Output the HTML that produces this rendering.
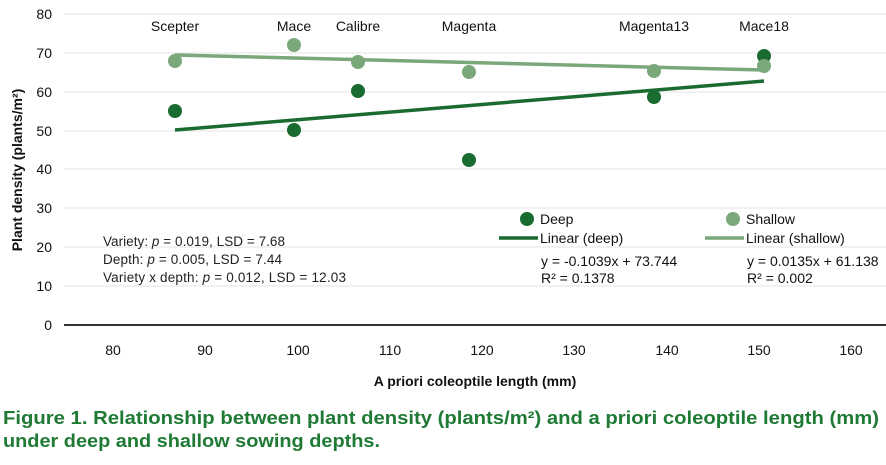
<!DOCTYPE html><html><head><style>body{margin:0;background:#fff;width:886px;height:460px;overflow:hidden}</style></head><body>
<svg width="886" height="460" xmlns="http://www.w3.org/2000/svg" font-family="Liberation Sans, sans-serif">
<g stroke="#e3e3e3" stroke-width="1">
<line x1="64" x2="886" y1="14" y2="14"/><line x1="64" x2="886" y1="53" y2="53"/><line x1="64" x2="886" y1="92" y2="92"/><line x1="64" x2="886" y1="131" y2="131"/><line x1="64" x2="886" y1="169" y2="169"/><line x1="64" x2="886" y1="208" y2="208"/><line x1="64" x2="886" y1="247" y2="247"/><line x1="64" x2="886" y1="286" y2="286"/>
</g>
<line x1="64" x2="886" y1="325" y2="325" stroke="#333" stroke-width="2"/>
<g font-size="14" fill="#111" text-anchor="end">
<text x="52" y="19">80</text><text x="52" y="58">70</text><text x="52" y="97">60</text><text x="52" y="136">50</text><text x="52" y="174">40</text><text x="52" y="213">30</text><text x="52" y="252">20</text><text x="52" y="291">10</text><text x="52" y="330">0</text>
</g>
<g font-size="14" fill="#111" text-anchor="middle">
<text x="113" y="355">80</text><text x="205" y="355">90</text><text x="298" y="355">100</text><text x="390" y="355">110</text><text x="482" y="355">120</text><text x="574" y="355">130</text><text x="667" y="355">140</text><text x="759" y="355">150</text><text x="851" y="355">160</text>
</g>
<text x="475" y="386" font-size="14" font-weight="bold" text-anchor="middle" fill="#111">A priori coleoptile length (mm)</text>
<text transform="translate(22,170) rotate(-90)" font-size="14" font-weight="bold" text-anchor="middle" fill="#111">Plant density (plants/m²)</text>
<line x1="175" y1="130" x2="764" y2="81" stroke="#1a6b2f" stroke-width="3.5"/>
<line x1="175" y1="55" x2="764" y2="70" stroke="#7aa87a" stroke-width="3.5"/>
<g fill="#1a6b2f"><circle cx="175" cy="111" r="7"/><circle cx="294" cy="130" r="7"/><circle cx="358" cy="91" r="7"/><circle cx="469" cy="160" r="7"/><circle cx="654" cy="97" r="7"/><circle cx="764" cy="56" r="7"/></g>
<g fill="#7aa87a"><circle cx="175" cy="61" r="7"/><circle cx="294" cy="45" r="7"/><circle cx="358" cy="62" r="7"/><circle cx="469" cy="72" r="7"/><circle cx="654" cy="71" r="7"/><circle cx="764" cy="66" r="7"/></g>
<g font-size="14" fill="#111" text-anchor="middle">
<text x="175" y="31">Scepter</text><text x="294" y="31">Mace</text><text x="358" y="31">Calibre</text><text x="469" y="31">Magenta</text><text x="654" y="31">Magenta13</text><text x="764" y="31">Mace18</text>
</g>
<g font-size="13.5" fill="#222">
<text x="103" y="246" textLength="182">Variety: <tspan font-style="italic">p</tspan> = 0.019, LSD = 7.68</text>
<text x="103" y="264" textLength="179">Depth: <tspan font-style="italic">p</tspan> = 0.005, LSD = 7.44</text>
<text x="103" y="282" textLength="243">Variety x depth: <tspan font-style="italic">p</tspan> = 0.012, LSD = 12.03</text>
</g>
<circle cx="527" cy="219" r="7" fill="#1a6b2f"/><circle cx="733" cy="219" r="7" fill="#7aa87a"/>
<line x1="499" x2="538" y1="238" y2="238" stroke="#1a6b2f" stroke-width="3.5"/>
<line x1="705" x2="744" y1="238" y2="238" stroke="#7aa87a" stroke-width="3.5"/>
<g font-size="14" fill="#111">
<text x="540" y="224">Deep</text><text x="746" y="224">Shallow</text>
<text x="540" y="243">Linear (deep)</text><text x="746" y="243">Linear (shallow)</text>
<text x="541" y="266">y = -0.1039x + 73.744</text><text x="747" y="266">y = 0.0135x + 61.138</text>
<text x="541" y="283">R² = 0.1378</text><text x="747" y="283">R² = 0.002</text>
</g>
<g font-size="18" font-weight="bold" fill="#1f7a35">
<text x="3" y="424" textLength="876" lengthAdjust="spacingAndGlyphs">Figure 1. Relationship between plant density (plants/m²) and a priori coleoptile length (mm)</text>
<text x="3" y="447" textLength="377" lengthAdjust="spacingAndGlyphs">under deep and shallow sowing depths.</text>
</g>
</svg>
</body></html>
